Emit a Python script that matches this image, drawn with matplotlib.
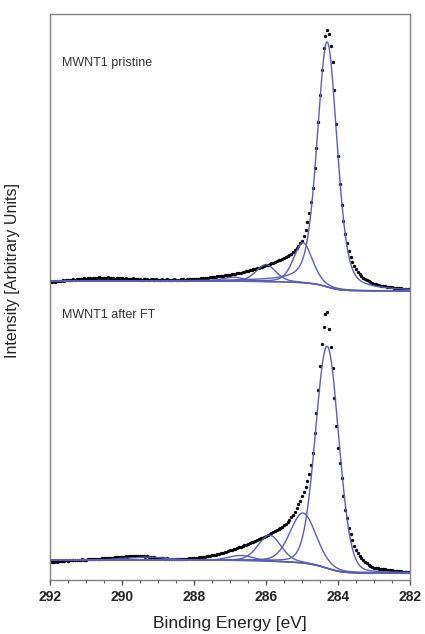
import numpy as np
import matplotlib
matplotlib.use("Agg")
import matplotlib.pyplot as plt
from matplotlib.ticker import MultipleLocator

plt.rcParams['font.family'] = ['Liberation Sans', 'DejaVu Sans']

# measured binding energies (eV), 0.05 eV step from 292 down to 282
energy = np.round(np.linspace(292.0, 282.0, 201), 2)

# C1s data, MWNT1 pristine (arbitrary units)
pristine_counts = [
    16, 16, 17, 16, 17, 17, 17, 18, 17, 18, 18, 18, 18, 19, 18, 19, 19, 19, 19, 20,
    19, 20, 20, 19, 20, 20, 20, 21, 20, 20, 20, 20, 21, 20, 20, 20, 19, 20, 20, 20,
    20, 19, 20, 19, 19, 19, 20, 19, 19, 19, 19, 18, 19, 19, 19, 18, 19, 19, 18, 19,
    18, 18, 19, 18, 18, 19, 18, 18, 18, 19, 18, 18, 18, 19, 19, 18, 19, 19, 19, 19,
    19, 19, 19, 19, 20, 20, 20, 20, 20, 21, 21, 21, 21, 22, 22, 22, 22, 23, 23, 23,
    23, 24, 24, 24, 25, 25, 25, 26, 26, 27, 27, 28, 28, 29, 29, 30, 30, 31, 31, 32,
    33, 33, 34, 35, 35, 36, 37, 38, 38, 39, 40, 41, 42, 43, 44, 46, 48, 50, 52, 55,
    57, 62, 68, 76, 85, 96, 110, 130, 150, 176, 203, 228, 250, 262, 268, 264, 252, 236, 208, 174,
    142, 114, 93, 77, 64, 55, 47, 41, 36, 32, 29, 26, 24, 22, 20, 19, 18, 17, 16, 15,
    14, 14, 13, 13, 12, 12, 12, 11, 11, 11, 11, 10, 10, 10, 10, 10, 9, 9, 9, 9,
    9,
]

# C1s data, MWNT1 after FT
after_ft_counts = [
    16, 16, 16, 17, 16, 17, 17, 17, 17, 18, 17, 18, 18, 18, 18, 18, 18, 18, 19, 18,
    18, 19, 19, 19, 19, 19, 19, 19, 19, 20, 20, 20, 20, 20, 20, 20, 21, 21, 21, 21,
    21, 21, 22, 21, 22, 22, 22, 22, 22, 22, 22, 22, 22, 21, 22, 21, 21, 21, 21, 20,
    20, 20, 20, 20, 19, 20, 19, 19, 19, 19, 19, 19, 19, 19, 19, 19, 19, 20, 20, 20,
    20, 20, 20, 21, 21, 21, 21, 22, 22, 22, 23, 23, 23, 24, 24, 25, 25, 26, 26, 27,
    28, 28, 29, 29, 30, 31, 31, 32, 33, 33, 34, 35, 36, 36, 37, 38, 39, 40, 40, 41,
    42, 43, 44, 45, 46, 47, 48, 49, 50, 51, 53, 54, 56, 58, 61, 63, 66, 70, 74, 77,
    82, 86, 91, 97, 104, 113, 125, 145, 165, 188, 212, 234, 251, 264, 266, 249, 231, 210, 180, 152,
    130, 115, 100, 82, 68, 60, 50, 44, 38, 32, 28, 25, 22, 20, 18, 16, 15, 13, 12, 11,
    10, 10, 10, 9, 9, 9, 9, 8, 8, 8, 8, 7, 7, 7, 7, 7, 6, 6, 6, 6,
    6,
]

# fitted components: centre (eV), height, FWHM (eV), Lorentzian fraction
pristine_centers = [284.30, 284.97, 286.00, 286.90]
pristine_heights = [245, 40, 17, 4]
pristine_fwhm = [0.65, 0.62, 0.65, 0.70]
pristine_mix = [0.35, 0.3, 0.3, 0.3]
pristine_bg = (17, 7)   # background level at 292 eV, at 282 eV

after_ft_centers = [284.30, 284.97, 285.90, 286.70, 289.30]
after_ft_heights = [222, 50, 26, 5, 3]
after_ft_fwhm = [0.76, 0.85, 0.75, 0.80, 1.40]
after_ft_mix = [0.1, 0.2, 0.2, 0.2, 0.2]
after_ft_bg = (18, 5)


def pseudo_voigt(e, c, h, w, m):
    x = (e - c) / w
    return h * ((1 - m) * np.exp(-4 * np.log(2) * x ** 2) + m / (1 + 4 * x ** 2))


def shirley(e, comps, high, low):
    # e ascending; background grows with the peak area on the low-energy side
    total = np.sum(comps, axis=0)
    cum = np.concatenate([[0], np.cumsum((total[1:] + total[:-1]) / 2 * np.diff(e))])
    return low + (high - low) * cum / cum[-1]


fig = plt.figure(figsize=(4.25, 6.34), dpi=100)
ax = fig.add_axes([50 / 425, 54 / 634, 360 / 425, 566 / 634])

blue = '#5a5fb4'
fine = np.linspace(282.0, 292.0, 1001)

spectra = [
    (pristine_counts, pristine_centers, pristine_heights, pristine_fwhm, pristine_mix, pristine_bg, 280),
    (after_ft_counts, after_ft_centers, after_ft_heights, after_ft_fwhm, after_ft_mix, after_ft_bg, 0),
]

for counts, cen, hgt, fw, mx, bgl, offset in spectra:
    comps = [pseudo_voigt(fine, c, h, w, m) for c, h, w, m in zip(cen, hgt, fw, mx)]
    bg = shirley(fine, comps, bgl[0], bgl[1])
    ax.plot(fine, bg + offset, color=blue, lw=1.0, zorder=3)
    for comp in comps:
        ax.plot(fine, bg + comp + offset, color=blue, lw=1.0, zorder=3)
    ax.plot(energy, np.array(counts) + offset, 'o', color='black', ms=2.4,
            mec='none', zorder=2)

ax.text(0.033, 0.913, 'MWNT1 pristine', transform=ax.transAxes,
        fontsize=9, color='#333333', va='center')
ax.text(0.033, 0.468, 'MWNT1 after FT', transform=ax.transAxes,
        fontsize=9, color='#333333', va='center')

ax.set_xlim(292, 282)
ax.set_ylim(-2, 564)
ax.xaxis.set_major_locator(MultipleLocator(2))
ax.xaxis.set_minor_locator(MultipleLocator(0.5))
ax.tick_params(axis='x', which='major', direction='out', length=3.5, width=1,
               color='#555555', labelsize=10, pad=4)
ax.tick_params(axis='x', which='minor', direction='out', length=2, width=0.8,
               color='#555555')
for lab in ax.get_xticklabels():
    lab.set_fontweight('bold')
    lab.set_color('#222222')
ax.set_yticks([])
for sp in ax.spines.values():
    sp.set_color('#808080')
    sp.set_linewidth(1.0)

ax.set_xlabel('Binding Energy [eV]', fontsize=12.5, color='#222222', labelpad=8)
ax.set_ylabel('Intensity [Arbitrary Units]', fontsize=11.5, color='#222222')
ax.yaxis.set_label_coords(-0.083, 0.546)

fig.savefig('out.png', dpi=100)
